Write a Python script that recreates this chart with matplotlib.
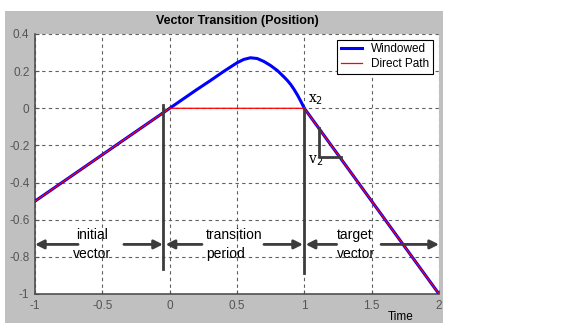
import matplotlib
matplotlib.use('Agg')
import matplotlib.pyplot as plt
from matplotlib.patches import Rectangle

plt.rcParams['font.family'] = ['Liberation Sans', 'DejaVu Sans']

# windowed position curve
t_win = [-1.0, -0.5, 0.0, 0.1, 0.2, 0.3, 0.4, 0.5, 0.55, 0.6, 0.65, 0.7,
         0.75, 0.8, 0.85, 0.875, 0.9, 0.925, 0.95, 0.975, 1.0, 1.5, 2.0]
y_win = [-0.5, -0.25, 0.0, 0.05, 0.1, 0.148, 0.198, 0.245, 0.263, 0.272, 0.268,
         0.252, 0.23, 0.203, 0.168, 0.149, 0.127, 0.1, 0.07, 0.036, 0.0,
         -0.5, -1.0]

# direct path
t_dir = [-1.0, 0.0, 1.0, 2.0]
y_dir = [-0.5, 0.0, 0.0, -1.0]

x_ticks = [-1, -0.5, 0, 0.5, 1, 1.5, 2]
x_labels = ['-1', '-0.5', '0', '0.5', '1', '1.5', '2']
y_ticks = [-1, -0.8, -0.6, -0.4, -0.2, 0, 0.2, 0.4]
y_labels = ['-1', '-0.8', '-0.6', '-0.4', '-0.2', '0', '0.2', '0.4']

dark = '#3c3c3c'

fig = plt.figure(figsize=(5.84, 3.33), dpi=100, facecolor='white')
bg = Rectangle((5 / 584, 1 - 323 / 333), 438 / 584, 312 / 333,
               transform=fig.transFigure, facecolor='#c0c0c0',
               edgecolor='none', zorder=-10)
fig.add_artist(bg)
ax = fig.add_axes([35 / 584, 1 - 294 / 333, 404 / 584, 260 / 333])
ax.set_facecolor('white')

ax.plot(t_win, y_win, color='#0000ff', lw=2.2, label='Windowed', zorder=3)
ax.plot(t_dir, y_dir, color='#ff0000', lw=0.9, label='Direct Path', zorder=4)

ax.set_xlim(-1, 2)
ax.set_ylim(-1, 0.4)
ax.set_xticks(x_ticks)
ax.set_xticklabels(x_labels)
ax.set_yticks(y_ticks)
ax.set_yticklabels(y_labels)
ax.tick_params(direction='in', length=3, labelsize=8.5, colors='#555555', pad=4)
ax.grid(True, color='#606060', linestyle=(0, (3, 3)), lw=0.8)
ax.set_axisbelow(True)
for s in ['top', 'right']:
    ax.spines[s].set_visible(False)
for s in ['left', 'bottom']:
    ax.spines[s].set_color('#505050')
    ax.spines[s].set_linewidth(1.2)

# markers for the transition
ax.plot([-0.05, -0.05], [0.018, -0.865], color=dark, lw=2, zorder=5)
ax.plot([1.0, 1.0], [0.0, -0.887], color=dark, lw=2, zorder=5)
ax.plot([1.11, 1.11, 1.27], [-0.106, -0.264, -0.264], color=dark, lw=2, zorder=5)
ax.text(1.03, 0.045, r'x$_2$', family='serif', fontsize=10, va='center')
ax.text(1.03, -0.285, r'v$_2$', family='serif', fontsize=10, va='center')

# span arrows
ya = -0.733
spans = [(-1.0, -0.68), (-0.05, -0.34), (-0.03, 0.24), (0.99, 0.70),
         (1.01, 1.24), (2.0, 1.57)]
for tip, tail in spans:
    ax.annotate('', xy=(tip, ya), xytext=(tail, ya),
                arrowprops=dict(arrowstyle='-|>', color=dark, lw=2,
                                mutation_scale=13, shrinkA=0, shrinkB=0),
                zorder=5)
ax.text(-0.575, ya, 'initial\nvector', fontsize=10,
        ha='center', va='center', linespacing=1.4)
ax.text(0.27, ya, 'transition\nperiod', fontsize=10,
        ha='left', va='center', linespacing=1.4)
ax.text(1.245, ya, 'target\nvector', fontsize=10,
        ha='left', va='center', linespacing=1.4)

leg = ax.legend(loc='upper right', fontsize=8.5, fancybox=False, framealpha=1,
                edgecolor='black', borderaxespad=0.5, handlelength=1.8,
                borderpad=0.3, labelspacing=0.25)
leg.get_frame().set_linewidth(0.8)

fig.text(237 / 584, 1 - 21 / 333, 'Vector Transition (Position)',
         fontsize=9, fontweight='bold', ha='center', va='center')
fig.text(401 / 584, 1 - 317 / 333, 'Time', fontsize=8.5, ha='center',
         va='center', color='black')

fig.savefig('out.png', dpi=100, facecolor='white')
